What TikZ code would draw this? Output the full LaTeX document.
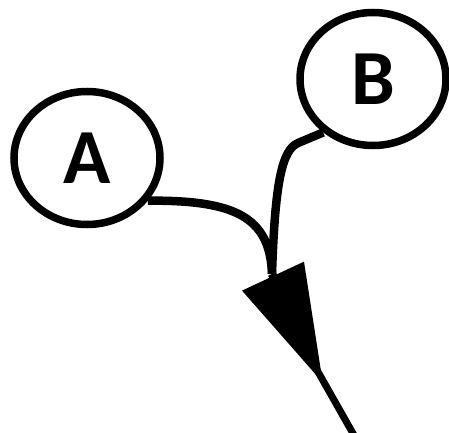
\documentclass[tikz,border=0pt]{standalone}
\usepackage{fontspec}
\newfontfamily\labelfont{Carlito}
\usetikzlibrary{shapes.geometric, arrows.meta}

\begin{document}
\begin{tikzpicture}[x=1pt, y=1pt,
    state/.style={ellipse, draw, line width=7.5pt, minimum width=146pt, minimum height=133pt, inner sep=0pt, font=\labelfont\bfseries\fontsize{78}{78}\selectfont},
    link/.style={line width=8.5pt},
    head/.style={-{Triangle[length=118pt, width=66pt]}, line width=8.5pt}
]
\useasboundingbox (0,0) rectangle (449,432);

\node[state] (A) at (87, 274) {A};
\node[state] (B) at (373, 353) {B};
\coordinate (join) at (272, 158);
\coordinate (tip) at (323, 49);
\coordinate (neck) at (317, 62);
\coordinate (out) at (355, -5);

\draw[link] (A.-35) .. controls (235, 232) and (270, 215) .. (join);
\draw[link] (B.-133) -- (298, 289) .. controls (282, 282) and (275, 250) .. (join);
\draw[head] (join) -- (tip);
\draw[line width=7pt] (neck) -- (out);
\end{tikzpicture}
\end{document}
